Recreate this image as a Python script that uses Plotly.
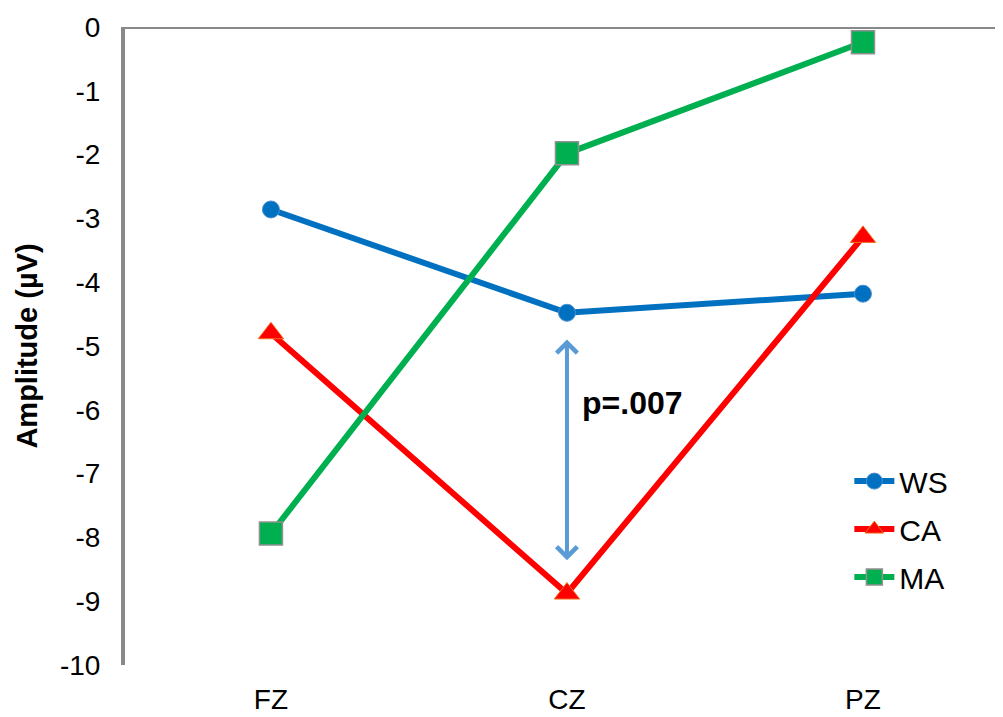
import plotly.graph_objects as go

categories = ["FZ", "CZ", "PZ"]
ws = [-2.86, -4.48, -4.18]
ca = [-4.80, -8.88, -3.29]
ma = [-7.94, -1.98, -0.24]
y_ticks = [0, -1, -2, -3, -4, -5, -6, -7, -8, -9, -10]
p_label = "p=.007"

fig = go.Figure()
fig.add_trace(go.Scatter(x=categories, y=ws, name="WS", mode="lines+markers",
                         legendgroup="a",
                         line=dict(color="#0070C0", width=6),
                         marker=dict(symbol="circle", size=17, color="#0070C0",
                                     line=dict(color="#4A8FD0", width=1))))
fig.add_trace(go.Scatter(x=categories, y=ca, name="CA", mode="lines+markers",
                         legendgroup="b",
                         line=dict(color="#FF0000", width=6),
                         marker=dict(symbol="triangle-up", size=22, color="#FF0000",
                                     line=dict(color="#F07020", width=1))))
fig.add_trace(go.Scatter(x=categories, y=ma, name="MA", mode="lines+markers",
                         legendgroup="c",
                         line=dict(color="#00B050", width=6),
                         marker=dict(symbol="square", size=23, color="#00B050",
                                     line=dict(color="#909090", width=1.5))))

# top border line at y = 0
fig.add_shape(type="line", xref="paper", yref="y", x0=-0.003, x1=1, y0=0, y1=0,
              line=dict(color="#898989", width=4), layer="above")

# double-headed arrow between WS and CA at CZ
fig.add_annotation(x="CZ", y=ws[1] - 0.42, ax="CZ", ay=ca[1] + 0.5,
                   xref="x", yref="y", axref="x", ayref="y",
                   text="", showarrow=True, arrowhead=4, startarrowhead=4,
                   arrowside="end+start", arrowsize=1.0, startarrowsize=1.0,
                   arrowwidth=4,
                   arrowcolor="#5B9BD5", standoff=0, startstandoff=0)
fig.add_annotation(x=1.223, y=-5.89, xref="x", yref="y", text="<b>" + p_label + "</b>",
                   showarrow=False, font=dict(size=32, color="black",
                                              family="Liberation Sans, Arial"))

fig.update_layout(
    width=995, height=709,
    margin=dict(l=117, r=0, t=19, b=52, autoexpand=False),
    paper_bgcolor="white", plot_bgcolor="white",
    font=dict(family="Liberation Sans, Arial", color="black"),
    showlegend=True,
    legend=dict(x=0.825, y=0.329, xanchor="left", yanchor="top",
                font=dict(size=30), tracegroupgap=6, itemwidth=40,
                bgcolor="rgba(0,0,0,0)"),
    xaxis=dict(type="category", range=[-0.493, 2.473], showline=False,
               showgrid=False, zeroline=False, ticks="", automargin=False,
               tickfont=dict(size=28), ticklabelstandoff=15),
    yaxis=dict(range=[-10, 0], tickvals=y_ticks, ticktext=[str(v) for v in y_ticks],
               showgrid=False, zeroline=False, showline=True, automargin=False,
               linecolor="#898989", linewidth=4, ticks="",
               tickfont=dict(size=28), ticklabelstandoff=15,
               title=dict(text="<b>Amplitude (µV)</b>", font=dict(size=29), standoff=15)),
)

fig.write_html("out.html")
